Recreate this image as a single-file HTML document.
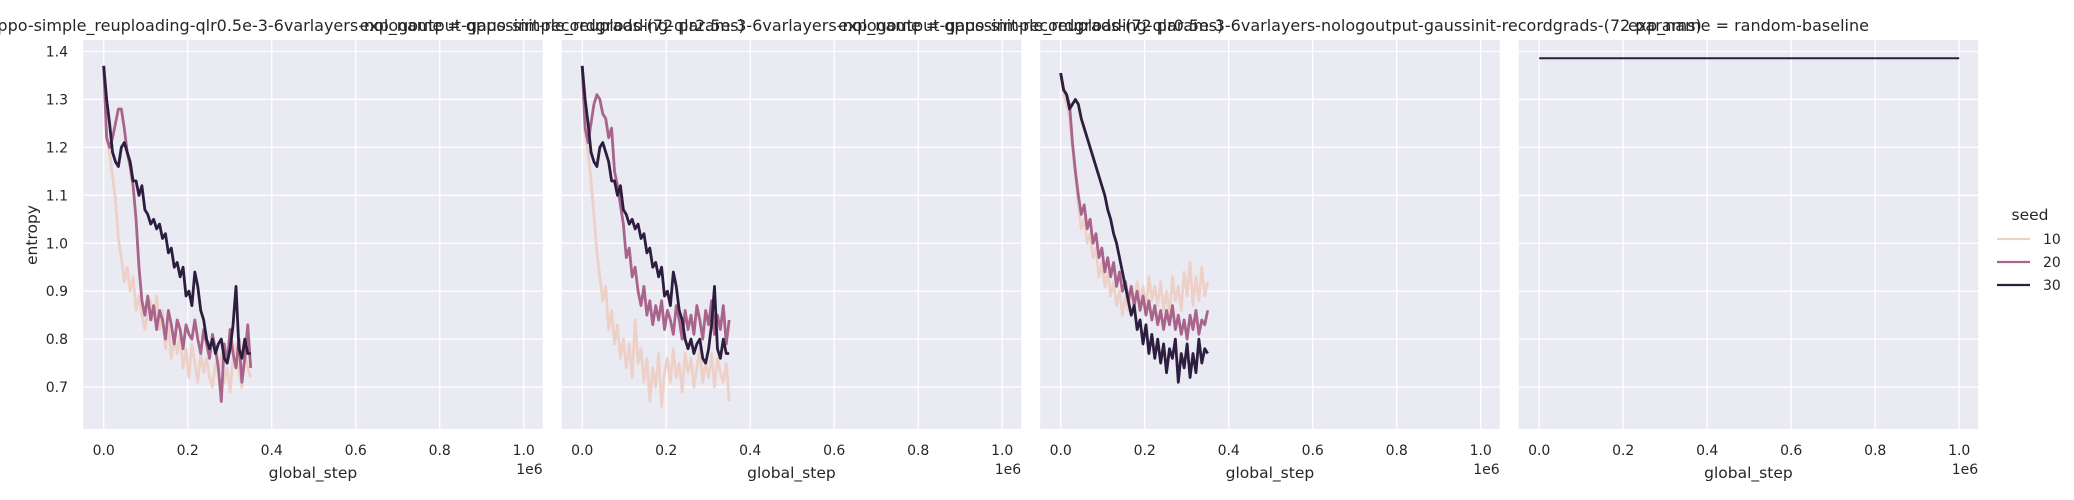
<!DOCTYPE html>
<html><head><meta charset="utf-8"><style>
html,body{margin:0;padding:0;background:#fff;}
svg{display:block;font-family:"DejaVu Sans","Liberation Sans",sans-serif;}
</style></head><body>
<svg id="chart" width="2074" height="500" viewBox="0 0 2074 500" xmlns="http://www.w3.org/2000/svg"></svg>
<script>
// ---- data ----
const xTicks = [0, 0.2, 0.4, 0.6, 0.8, 1.0];
const xTickLabels = ["0.0", "0.2", "0.4", "0.6", "0.8", "1.0"];
const yTicks = [0.7, 0.8, 0.9, 1.0, 1.1, 1.2, 1.3, 1.4];
const yTickLabels = ["0.7", "0.8", "0.9", "1.0", "1.1", "1.2", "1.3", "1.4"];
const seeds = ["10", "20", "30"];
const stepX = 0.007; // in units of 1e6 per point
const titles = [
  "exp_name = qppo-simple_reuploading-qlr0.5e-3-6varlayers-nologoutput-gaussinit-recordgrads-(72 params)",
  "exp_name = qppo-simple_reuploading-qlr2.5e-3-6varlayers-nologoutput-gaussinit-recordgrads-(72 params)",
  "exp_name = qppo-simple_reuploading-qlr0.5e-3-6varlayers-nologoutput-gaussinit-recordgrads-(72 params)",
  "exp_name = random-baseline"
];
const p1s10 = [1.37,1.22,1.19,1.14,1.09,1.01,0.97,0.92,0.95,0.90,0.93,0.86,0.89,0.85,0.82,0.86,0.88,0.84,0.89,0.82,0.86,0.78,0.83,0.76,0.80,0.77,0.81,0.74,0.78,0.72,0.79,0.75,0.71,0.77,0.73,0.76,0.72,0.70,0.75,0.73,0.77,0.71,0.74,0.69,0.76,0.79,0.73,0.70,0.77,0.74,0.72];
const p1s20 = [1.37,1.22,1.20,1.22,1.25,1.28,1.28,1.24,1.19,1.16,1.12,1.05,0.95,0.88,0.85,0.89,0.84,0.87,0.82,0.86,0.84,0.80,0.86,0.83,0.79,0.84,0.82,0.78,0.83,0.81,0.80,0.84,0.80,0.77,0.82,0.79,0.76,0.81,0.78,0.74,0.67,0.79,0.75,0.82,0.77,0.74,0.80,0.71,0.76,0.83,0.74];
const p1s30 = [1.37,1.30,1.25,1.19,1.17,1.16,1.20,1.21,1.19,1.17,1.13,1.13,1.10,1.12,1.07,1.06,1.04,1.05,1.03,1.04,1.01,1.02,0.98,0.99,0.95,0.96,0.93,0.95,0.89,0.90,0.87,0.94,0.91,0.86,0.84,0.80,0.78,0.80,0.77,0.79,0.80,0.76,0.75,0.78,0.83,0.91,0.78,0.76,0.80,0.77,0.77];
const p2s10 = [1.37,1.23,1.19,1.13,1.06,0.98,0.93,0.88,0.91,0.82,0.86,0.79,0.83,0.76,0.80,0.74,0.79,0.72,0.84,0.75,0.78,0.71,0.76,0.67,0.74,0.70,0.77,0.66,0.73,0.76,0.71,0.78,0.72,0.75,0.69,0.77,0.73,0.76,0.70,0.74,0.78,0.71,0.75,0.72,0.77,0.70,0.76,0.73,0.71,0.75,0.67];
const p2s20 = [1.37,1.24,1.21,1.25,1.29,1.31,1.30,1.27,1.26,1.22,1.24,1.15,1.12,1.08,1.04,0.97,0.99,0.93,0.95,0.90,0.87,0.91,0.85,0.88,0.83,0.87,0.84,0.88,0.82,0.86,0.84,0.81,0.87,0.84,0.80,0.86,0.82,0.85,0.81,0.87,0.84,0.80,0.86,0.83,0.88,0.81,0.85,0.82,0.87,0.79,0.84];
const p2s30 = [1.37,1.30,1.25,1.19,1.17,1.16,1.20,1.21,1.19,1.17,1.13,1.13,1.10,1.12,1.07,1.06,1.04,1.05,1.03,1.04,1.01,1.02,0.98,0.99,0.95,0.96,0.93,0.95,0.89,0.90,0.87,0.94,0.91,0.86,0.84,0.80,0.78,0.80,0.77,0.79,0.80,0.76,0.75,0.78,0.83,0.91,0.78,0.76,0.80,0.77,0.77];
const p3s10 = [1.355,1.31,1.29,1.26,1.20,1.14,1.08,1.03,1.05,1.00,1.02,0.97,0.99,0.93,0.96,0.91,0.94,0.89,0.92,0.87,0.90,0.85,0.89,0.86,0.90,0.87,0.92,0.88,0.91,0.86,0.93,0.88,0.91,0.87,0.92,0.86,0.90,0.85,0.93,0.88,0.91,0.86,0.94,0.89,0.96,0.87,0.93,0.88,0.95,0.89,0.92];
const p3s20 = [1.355,1.32,1.31,1.29,1.21,1.15,1.10,1.06,1.08,1.03,1.05,1.00,1.02,0.97,0.99,0.94,0.97,0.93,0.96,0.91,0.94,0.90,0.92,0.88,0.91,0.87,0.90,0.86,0.89,0.85,0.88,0.84,0.87,0.83,0.86,0.82,0.86,0.83,0.87,0.82,0.85,0.81,0.84,0.80,0.85,0.82,0.86,0.81,0.84,0.83,0.86];
const p3s30 = [1.355,1.32,1.31,1.28,1.29,1.30,1.29,1.26,1.24,1.22,1.20,1.18,1.16,1.14,1.12,1.10,1.07,1.05,1.02,1.00,0.97,0.94,0.91,0.88,0.85,0.87,0.82,0.84,0.79,0.83,0.77,0.81,0.76,0.80,0.75,0.79,0.73,0.78,0.76,0.80,0.71,0.77,0.74,0.79,0.72,0.77,0.73,0.80,0.75,0.78,0.77];
const baselineX = [0, 1.0];
const baselineY = [1.386, 1.386];

// ---- layout ----
const NS = "http://www.w3.org/2000/svg";
const svg = document.getElementById("chart");
const colors = {"10":"#edd1c9","20":"#a9648c","30":"#2d1d3e"};
const panelLeft0 = 83.2, panelStep = 478.5, panelW = 459.5, plotTop = 40, plotBottom = 429;
function xScale(p, v){ return panelLeft0 + p*panelStep + 20.5 + v*420; }
function yScale(v){ return 51.5 + (1.4 - v)*479.4; }
function mk(tag, attrs, parent){
  const e = document.createElementNS(NS, tag);
  for (const k in attrs) e.setAttribute(k, attrs[k]);
  (parent||svg).appendChild(e);
  return e;
}
const panelSeries = [[p1s10,p1s20,p1s30],[p2s10,p2s20,p2s30],[p3s10,p3s20,p3s30]];

for (let p = 0; p < 4; p++){
  const L = panelLeft0 + p*panelStep;
  const g = mk("g", {});
  
  
  const bg = mk("rect", {x:L, y:plotTop, width:panelW, height:plotBottom-plotTop, fill:"#eaeaf2"}, g);
  
  
  for (let i = 0; i < xTicks.length; i++){
    const x = xScale(p, xTicks[i]);
    const gl = mk("line", {x1:x, x2:x, y1:plotTop, y2:plotBottom, stroke:"#fff", "stroke-width":1.3}, g);
    
    
    const t = mk("text", {x:x, y:455, "font-size":14, fill:"#262626", "text-anchor":"middle"}, g);
    t.textContent = xTickLabels[i];
    
    
  }
  for (let i = 0; i < yTicks.length; i++){
    const y = yScale(yTicks[i]);
    const gl = mk("line", {x1:L, x2:L+panelW, y1:y, y2:y, stroke:"#fff", "stroke-width":1.3}, g);
    
    
    if (p === 0){
      const t = mk("text", {x:68, y:y+5, "font-size":14, fill:"#262626", "text-anchor":"end"}, g);
      t.textContent = yTickLabels[i];
      
      
    }
  }
  const xl = mk("text", {x:L+panelW/2, y:478, "font-size":15.5, fill:"#262626", "text-anchor":"middle"}, g);
  xl.textContent = "global_step";
  
  
  const ex = mk("text", {x:L+panelW, y:474, "font-size":14, fill:"#262626", "text-anchor":"end"}, g);
  ex.textContent = "1e6";
  
  
  const tt = mk("text", {x:L+panelW/2, y:31, "font-size":16, fill:"#262626", "text-anchor":"middle"}, g);
  tt.textContent = titles[p];
  
  

  if (p < 3){
    const ser = panelSeries[p];
    for (let s = 0; s < 3; s++){
      const vals = ser[s];
      let d = "";
      for (let i = 0; i < vals.length; i++){
        d += (i ? "L" : "M") + xScale(p, i*stepX).toFixed(2) + "," + yScale(vals[i]).toFixed(2);
      }
      const path = mk("path", {d:d, fill:"none", stroke:colors[seeds[s]], "stroke-width":2.8, "stroke-linejoin":"round"}, g);
      
      
    }
  } else {
    let d = "";
    for (let i = 0; i < baselineX.length; i++){
      d += (i ? "L" : "M") + xScale(p, baselineX[i]).toFixed(2) + "," + yScale(baselineY[i]).toFixed(2);
    }
    const path = mk("path", {d:d, fill:"none", stroke:colors["30"], "stroke-width":2}, g);
    
    
  }
}
const yl = mk("text", {x:0, y:0, "font-size":15.5, fill:"#262626", "text-anchor":"middle", transform:"translate(37,235) rotate(-90)"});
yl.textContent = "entropy";



// legend
const lg = mk("g", {});


const lt = mk("text", {x:2030, y:220, "font-size":15.5, fill:"#262626", "text-anchor":"middle"}, lg);
lt.textContent = "seed";


for (let s = 0; s < seeds.length; s++){
  const y = 239 + s*23;
  const ln = mk("line", {x1:1997, x2:2030, y1:y, y2:y, stroke:colors[seeds[s]], "stroke-width":2.2}, lg);
  
  
  const tx = mk("text", {x:2043, y:y+5, "font-size":14, fill:"#262626"}, lg);
  tx.textContent = seeds[s];
  
  
}
</script>
</body></html>
